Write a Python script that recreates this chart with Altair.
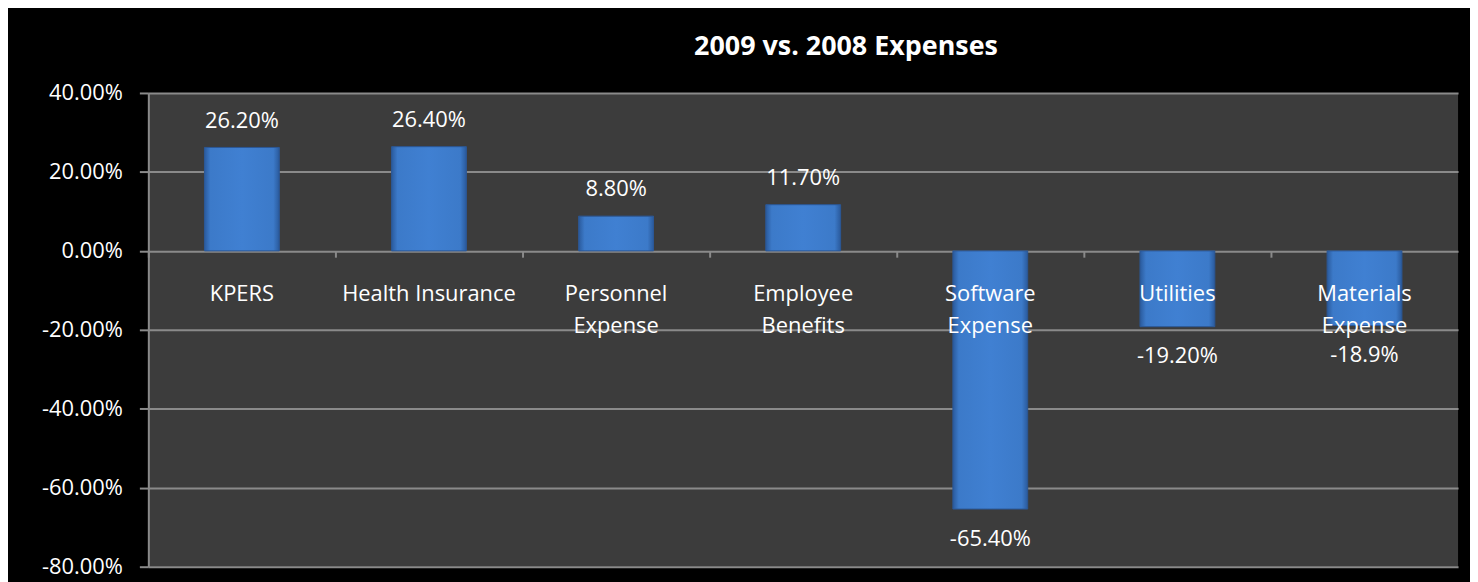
import altair as alt
import pandas as pd

categories = ["KPERS", "Health Insurance", "Personnel\nExpense", "Employee\nBenefits",
              "Software\nExpense", "Utilities", "Materials\nExpense"]
values = [0.262, 0.264, 0.088, 0.117, -0.654, -0.192, -0.189]
value_labels = ["26.20%", "26.40%", "8.80%", "11.70%", "-65.40%", "-19.20%", "-18.9%"]
y_ticks = [-0.8, -0.6, -0.4, -0.2, 0.0, 0.2, 0.4]

df = pd.DataFrame({"cat": categories, "val": values, "lab": value_labels,
                   "zero": [0.0] * len(categories)})

FONT = "Open Sans"
FS = 22

x = alt.X("cat:N", sort=None, title=None,
          scale=alt.Scale(paddingInner=0, paddingOuter=0),
          axis=alt.Axis(labels=False, domain=False, ticks=True, tickSize=6,
                        tickColor="#8a8a8a", tickWidth=2, bandPosition=0,
                        offset=-317, grid=False))
y = alt.Y("val:Q", title=None,
          scale=alt.Scale(domain=[-0.8, 0.4], nice=False, zero=True),
          axis=alt.Axis(values=y_ticks, format=".2%",
                        labelExpr="replace(datum.label, '\u2212', '-')",
                        labelFont=FONT, labelFontSize=FS, labelColor="white",
                        labelPadding=17, tickSize=9, tickColor="#8a8a8a", tickWidth=2,
                        domainColor="#8a8a8a", domainWidth=2,
                        grid=True, gridColor="#8a8a8a", gridWidth=2))

base = alt.Chart(df)

bars = base.mark_bar(
    width=alt.RelativeBandSize(0.4),
    color=alt.Gradient(
        gradient="linear", x1=0, x2=1, y1=0, y2=0,
        stops=[alt.GradientStop(offset=0, color="#2a5a9c"),
               alt.GradientStop(offset=0.08, color="#3c7ac9"),
               alt.GradientStop(offset=0.5, color="#4080d2"),
               alt.GradientStop(offset=0.92, color="#3c7ac9"),
               alt.GradientStop(offset=1, color="#2a5a9c")]),
    stroke="#2b5896", strokeWidth=1
).encode(x=x, y=y)

pos_labels = base.transform_filter("datum.val >= 0").mark_text(
    font=FONT, fontSize=FS, color="white", baseline="alphabetic", dy=-20
).encode(x=alt.X("cat:N", sort=None), y=alt.Y("val:Q"), text="lab:N")

neg_labels = base.transform_filter("datum.val < 0").mark_text(
    font=FONT, fontSize=FS, color="white", baseline="alphabetic", dy=37
).encode(x=alt.X("cat:N", sort=None), y=alt.Y("val:Q"), text="lab:N")

cat_labels = base.mark_text(
    font=FONT, fontSize=FS, color="white", baseline="alphabetic", dy=50,
    lineBreak="\n", lineHeight=33
).encode(x=alt.X("cat:N", sort=None), y=alt.Y("zero:Q"), text="cat:N")

chart = alt.layer(bars, pos_labels, neg_labels, cat_labels).properties(
    width=1316, height=476,
    title=alt.TitleParams("2009 vs. 2008 Expenses", font=FONT, fontSize=27,
                          fontWeight="bold", color="white", anchor="middle",
                          dx=43, offset=21),
    background="black",
    padding={"left": 141, "top": 84, "right": 12, "bottom": 14},
    autosize=alt.AutoSizeParams(type="none"),
).configure_view(fill="#3c3c3c", stroke=None)

chart.save("out.html", embed_options={"renderer": "svg", "actions": False})
